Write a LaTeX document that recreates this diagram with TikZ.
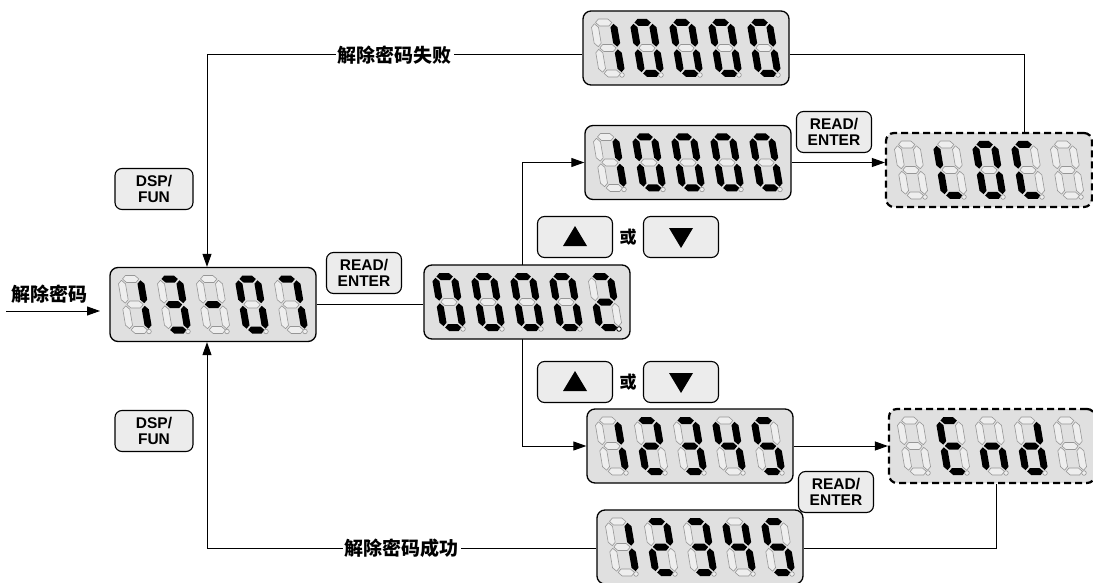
\documentclass[tikz,border=0pt]{standalone}
\usepackage{fontspec}
\setmainfont{Liberation Sans}
\newfontfamily\cjk{Noto Sans CJK SC}
\usetikzlibrary{arrows.meta}
\pgfdeclarelayer{bg}
\pgfsetlayers{bg,main}
\definecolor{dispbg}{RGB}{224,224,224}
\definecolor{segline}{RGB}{150,150,150}
\definecolor{segfill}{RGB}{238,238,238}
\definecolor{keybg}{RGB}{236,236,236}
\tikzset{
  segon/.style={fill=black},
  segoff/.style={draw=segline, fill=segfill, line width=0.6pt, line join=round},
  doton/.style={draw=black, fill=white, line width=0.8pt},
  dotoff/.style={draw=segline, fill=segfill, line width=0.6pt},
  disp/.style={draw=black, line width=1.3pt, fill=dispbg, rounded corners=8pt, minimum width=206pt, minimum height=74pt, inner sep=0pt},
  dispdash/.style={disp, line width=2.2pt, dash pattern=on 7pt off 4pt},
  keybox/.style={draw=black, line width=1.1pt, fill=keybg, rounded corners=7pt, minimum width=75pt, minimum height=41pt, inner sep=0pt, align=center, font=\fontsize{15.5}{16.5}\selectfont\bfseries},
  conn/.style={line width=1pt, draw=black},
  arr/.style={conn, -{Triangle[length=13pt,width=9pt]}},
  lbl/.style={fill=white, inner sep=2pt, font=\cjk\bfseries\fontsize{19}{19}\selectfont},
}
\makeatletter
\newcommand\sseg[3]{\in@{#2}{#1}\ifin@\path[segon] #3;\else\path[segoff] #3;\fi}
\newcommand\sdigit[3]{%
 \begin{scope}[shift={(#1,#2)},yscale=-1,xslant=0.17]
  \sseg{#3}{a}{(-8.2,25.5)--(-4.7,29)--(4.7,29)--(8.2,25.5)--(4.7,22)--(-4.7,22)--cycle}
  \sseg{#3}{g}{(-8.2,0)--(-4.7,3.5)--(4.7,3.5)--(8.2,0)--(4.7,-3.5)--(-4.7,-3.5)--cycle}
  \sseg{#3}{d}{(-8.2,-25.5)--(-4.7,-22)--(4.7,-22)--(8.2,-25.5)--(4.7,-29)--(-4.7,-29)--cycle}
  \sseg{#3}{b}{(9.5,1.3)--(13,4.8)--(13,20.7)--(9.5,24.2)--(6,20.7)--(6,4.8)--cycle}
  \sseg{#3}{c}{(9.5,-1.3)--(13,-4.8)--(13,-20.7)--(9.5,-24.2)--(6,-20.7)--(6,-4.8)--cycle}
  \sseg{#3}{f}{(-9.5,1.3)--(-6,4.8)--(-6,20.7)--(-9.5,24.2)--(-13,20.7)--(-13,4.8)--cycle}
  \sseg{#3}{e}{(-9.5,-1.3)--(-6,-4.8)--(-6,-20.7)--(-9.5,-24.2)--(-13,-20.7)--(-13,-4.8)--cycle}
 \end{scope}
 \in@{p}{#3}\ifin@\path[doton] (#1+14,#2+27) circle [radius=2.3];\else\path[dotoff] (#1+14,#2+27) circle [radius=2.3];\fi}
\makeatother
% name, cx, cy, style, five digits
\newcommand\display[9]{%
 \node[#4] (#1) at (#2,#3) {};
 \sdigit{#2-78}{#3}{#5}\sdigit{#2-39}{#3}{#6}\sdigit{#2}{#3}{#7}\sdigit{#2+39}{#3}{#8}\sdigit{#2+78}{#3}{#9}}
\newcommand\upkey[3]{\node[keybox] (#1) at (#2,#3) {};
  \fill (#1.center) +(-12,9) -- +(12,9) -- +(0,-11) -- cycle;}
\newcommand\downkey[3]{\node[keybox] (#1) at (#2,#3) {};
  \fill (#1.center) +(-12,-9) -- +(12,-9) -- +(0,11) -- cycle;}
\begin{document}
\begin{tikzpicture}[x=1pt,y=-1pt]
\useasboundingbox (0,0) rectangle (1093,583);
% displays
\display{topd}{686}{48}{disp}{bc}{abcdef}{abcdef}{abcdef}{abcdef}
\display{secd}{688}{162.5}{disp}{bc}{abcdef}{abcdef}{abcdef}{abcdef}
\display{locd}{989}{170}{dispdash}{}{fed}{abcdef}{afed}{}
\display{d1307}{213}{304.5}{disp}{bc}{abgcd}{g}{abcdef}{abc}
\display{dzero}{527}{302}{disp}{abcdef}{abcdef}{abcdef}{abcdef}{abgedp}
\display{midd}{690}{446}{disp}{bc}{abged}{abgcd}{fgbc}{afgcd}
\display{endd}{992}{446}{dispdash}{}{afged}{ecg}{bcdeg}{}
\display{botd}{700}{547}{disp}{bc}{abged}{abgcd}{fgbc}{afgcd}
% keys
\node[keybox, minimum width=78pt] (dsp1) at (154,189) {DSP/\\FUN};
\node[keybox, minimum width=78pt] (dsp2) at (154,431) {DSP/\\FUN};
\node[keybox] (re1) at (364,273) {READ/\\ENTER};
\node[keybox] (re2) at (834,132) {READ/\\ENTER};
\node[keybox] (re3) at (836,492) {READ/\\ENTER};
\upkey{up1}{575}{237}
\downkey{dn1}{681}{237}
\upkey{up2}{575}{382}
\downkey{dn2}{681}{382}
\node[font=\cjk\bfseries\fontsize{17}{17}\selectfont] (or1) at (628,237) {或};
\node[font=\cjk\bfseries\fontsize{17}{17}\selectfont] (or2) at (628,382) {或};
% input
\node[font=\cjk\bfseries\fontsize{19}{19}\selectfont] (inl) at (50,294) {解除密码};
\coordinate (inS) at (6,311);
\coordinate (inE) at (100,311);
\coordinate (ftop) at (207,55);
\coordinate (fbot) at (207,548);
\coordinate (rtop) at (1024,55);
\coordinate (rbot) at (996,483);
\coordinate (br) at (522,302);
\begin{pgfonlayer}{bg}
\draw[arr] (inS) -- (inE);
\draw[conn] (d1307.east) -- (d1307.east -| dzero.west);
\draw[arr] (br) |- (secd.west);
\draw[arr] (br) |- (midd.west);
\draw[arr] (secd.east) -- (secd.east -| locd.west);
\draw[arr] (midd.east) -- (midd.east -| endd.west);
\draw[arr] (topd.west |- ftop) -- node[lbl]{解除密码失败} (ftop) -- (ftop |- d1307.north);
\draw[conn] (topd.east |- rtop) -- (rtop) -- (rtop |- locd.north);
\draw[conn] (rbot |- endd.south) |- (botd.east |- fbot);
\draw[arr] (botd.west |- fbot) -- node[lbl]{解除密码成功} (fbot) -- (fbot |- d1307.south);
\end{pgfonlayer}
\end{tikzpicture}
\end{document}
